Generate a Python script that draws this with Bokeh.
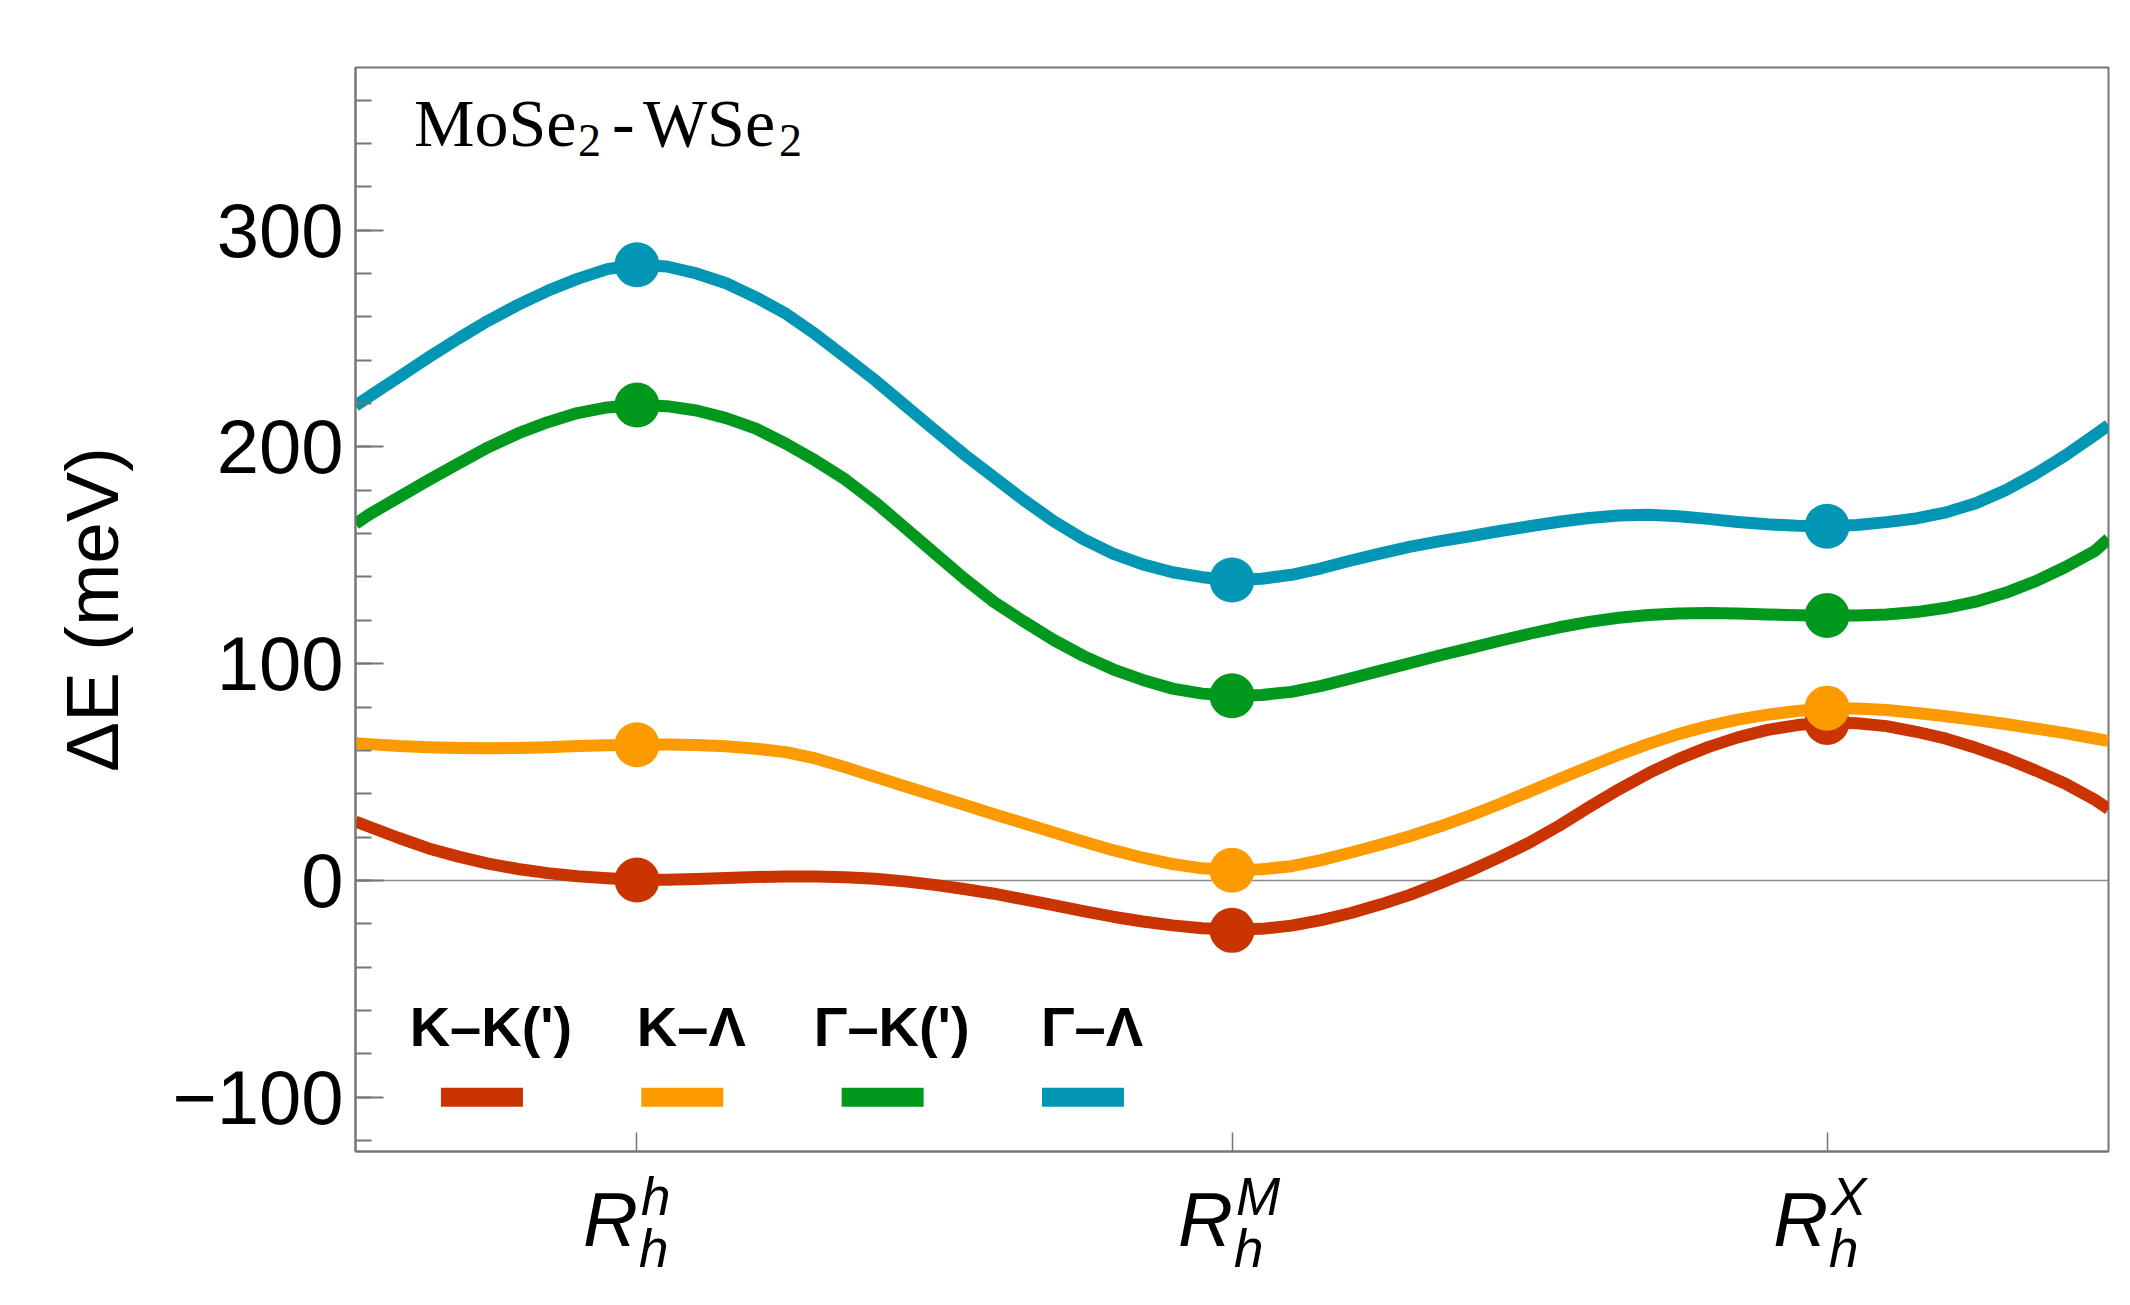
from bokeh.plotting import figure
from bokeh.layouts import column
from bokeh.models import Range1d, FixedTicker, SingleIntervalTicker, Span
from bokeh.embed import file_html
from bokeh.resources import INLINE
from bokeh.core.properties import value

# ---------------- data ----------------
cat_pos = [0, 1, 2]
cat_sup = ["h", "M", "X"]          # x labels: R_h^h, R_h^M, R_h^X
cat_sub = ["h", "h", "h"]

x_samples = [-0.473, -0.45, -0.4, -0.35, -0.3, -0.25, -0.2, -0.15, -0.1, -0.05,
             0.0, 0.05, 0.1, 0.15, 0.2, 0.25, 0.3, 0.35, 0.4, 0.45,
             0.5, 0.55, 0.6, 0.65, 0.7, 0.75, 0.8, 0.85, 0.9, 0.95,
             1.0, 1.05, 1.1, 1.15, 1.2, 1.25, 1.3, 1.35, 1.4, 1.45,
             1.5, 1.55, 1.6, 1.65, 1.7, 1.75, 1.8, 1.85, 1.9, 1.95,
             2.0, 2.05, 2.1, 2.15, 2.2, 2.25, 2.3, 2.35, 2.4, 2.45, 2.473]

kk_curve = [27.2, 24.8, 19.6, 14.8, 11.0, 7.8, 5.3, 3.4, 2.0, 1.0,
            0.3, 0.3, 0.7, 1.2, 1.6, 1.9, 1.9, 1.5, 0.8, -0.4,
            -2.0, -3.9, -6.1, -8.7, -11.4, -14.1, -16.7, -18.9, -20.7, -22.0,
            -22.6, -22.3, -20.8, -18.3, -15.0, -11.0, -6.5, -1.2, 4.5, 10.8,
            17.5, 25.3, 33.8, 42.0, 49.5, 56.0, 61.5, 66.0, 69.5, 71.7,
            72.9, 72.5, 71.2, 68.6, 65.4, 61.2, 56.4, 50.8, 44.7, 37.2, 33.0]
kl_curve = [63.3, 62.9, 62.0, 61.5, 61.1, 61.0, 61.1, 61.5, 62.0, 62.4,
            62.6, 62.7, 62.5, 61.9, 60.8, 59.2, 56.3, 52.2, 47.9, 43.5,
            39.2, 34.9, 30.6, 26.4, 22.2, 18.0, 14.0, 10.5, 7.6, 5.6,
            4.7, 5.2, 6.6, 9.4, 12.9, 16.6, 20.5, 25.0, 29.9, 35.3,
            41.0, 46.8, 52.5, 58.0, 63.0, 67.5, 71.2, 74.2, 76.5, 78.2,
            79.4, 79.3, 78.6, 77.3, 75.8, 74.0, 72.2, 70.1, 68.0, 65.5, 64.4]
gk_curve = [164.5, 168.8, 176.8, 184.7, 192.3, 199.8, 206.2, 211.4, 215.6, 218.2,
            219.3, 218.8, 216.8, 213.3, 208.4, 201.5, 193.7, 185.0, 174.5, 162.8,
            151.0, 139.3, 128.5, 119.5, 111.0, 103.6, 97.4, 92.5, 88.5, 86.2,
            85.2, 85.6, 87.0, 89.8, 93.2, 96.8, 100.3, 103.9, 107.2, 110.6,
            113.8, 116.8, 119.3, 121.2, 122.5, 123.2, 123.4, 123.1, 122.7, 122.3,
            122.2, 122.2, 122.7, 123.8, 125.8, 128.6, 132.7, 138.0, 144.5, 152.0, 157.6]
gl_curve = [219.0, 223.2, 232.2, 241.3, 250.0, 258.2, 265.5, 272.0, 277.5, 282.0,
            284.0, 283.2, 280.0, 275.5, 269.0, 261.5, 252.0, 241.5, 230.8, 219.3,
            207.8, 196.5, 186.0, 175.5, 165.8, 157.5, 150.8, 145.8, 142.2, 139.9,
            138.6, 139.2, 141.0, 144.0, 147.6, 150.9, 154.0, 156.5, 158.8, 161.2,
            163.4, 165.5, 167.2, 168.4, 168.7, 168.0, 166.8, 165.4, 164.3, 163.6,
            163.4, 164.0, 165.3, 167.0, 169.8, 174.0, 180.0, 187.5, 196.0, 205.5, 210.0]

kk_pts = [0.2, -23.0, 72.9]
kl_pts = [62.6, 4.7, 79.5]
gk_pts = [219.3, 85.2, 122.2]
gl_pts = [284.0, 138.6, 163.4]

series_names = ["K\u2013K(')", "K\u2013\u039b", "\u0393\u2013K(')", "\u0393\u2013\u039b"]
series_colors = ["#C93400", "#FC9A00", "#00991E", "#0096B4"]
curves = [kk_curve, kl_curve, gk_curve, gl_curve]
points = [kk_pts, kl_pts, gk_pts, gl_pts]

title_parts = ["MoSe", "2", "-", "WSe", "2"]
y_tick_overrides = {-100: "\u2212100"}

# ---------------- styling / layout ----------------
GRAY = "#767676"
SANS = "Liberation Sans"
W = 2110
ML, MR = 355, 2

p = figure(width=W, height=1157, x_range=Range1d(-0.473, 2.473), y_range=Range1d(-125, 375),
           output_backend="svg", toolbar_location=None,
           min_border_left=ML, min_border_right=MR, min_border_top=67, min_border_bottom=6)
p.grid.visible = False
p.background_fill_color = "white"
p.border_fill_color = "white"
p.outline_line_color = GRAY
p.outline_line_width = 2

# y axis
p.yaxis.ticker = SingleIntervalTicker(interval=100, num_minor_ticks=5)
p.yaxis.major_label_overrides = y_tick_overrides
p.yaxis.axis_line_color = GRAY
p.yaxis.axis_line_width = 2
p.yaxis.major_tick_line_color = GRAY
p.yaxis.major_tick_line_width = 2
p.yaxis.minor_tick_line_color = GRAY
p.yaxis.minor_tick_line_width = 2
p.yaxis.major_tick_in = 28
p.yaxis.major_tick_out = 0
p.yaxis.minor_tick_in = 16
p.yaxis.minor_tick_out = 0
p.yaxis.major_label_standoff = 12
p.yaxis.major_label_text_font = SANS
p.yaxis.major_label_text_font_size = "76px"
p.yaxis.major_label_text_color = "black"
p.yaxis.axis_label = "\u0394E (meV)"
p.yaxis.axis_label_text_font = SANS
p.yaxis.axis_label_text_font_style = "normal"
p.yaxis.axis_label_text_font_size = "75px"
p.yaxis.axis_label_text_color = "black"
p.yaxis.axis_label_standoff = 35

# x axis (ticks only; the composite labels are drawn in the strip below)
p.xaxis.ticker = FixedTicker(ticks=cat_pos, minor_ticks=[])
p.xaxis.axis_line_color = GRAY
p.xaxis.axis_line_width = 2
p.xaxis.major_tick_line_color = GRAY
p.xaxis.major_tick_line_width = 1.5
p.xaxis.major_tick_in = 19
p.xaxis.major_tick_out = 0
p.xaxis.major_label_standoff = 0
p.xaxis.major_label_text_font_size = "1px"
p.xaxis.major_label_text_color = None

# zero line
p.add_layout(Span(location=0, dimension="width", line_color="#8c8c8c", line_width=1.5,
                  level="underlay"))

# curves and points
for col, cv, pts in zip(series_colors, curves, points):
    p.line(x_samples, cv, line_color=col, line_width=12, line_join="round")
    p.scatter(cat_pos, pts, marker="circle", size=45, fill_color=col, line_color=None)

# legend (labels above colour bars)
leg_x0, leg_dx = -0.2605, 0.3367
leg_y_bar, leg_y_text = -100, -76.5
leg_x = [leg_x0 + i * leg_dx for i in range(len(series_names))]
p.rect(leg_x, [leg_y_bar] * len(leg_x), width=82, height=19, width_units="screen",
       height_units="screen", fill_color=series_colors, line_color=None)
p.text(leg_x, [leg_y_text] * len(leg_x), text=series_names, text_font=value(SANS),
       text_font_style="bold", text_font_size="56px", text_align="center",
       text_baseline="alphabetic", x_offset=9, y_offset=-20, text_color="black")

# title inside the frame (with subscripts)
t_x, t_y, t_ysub = -0.3748, 338.1, 333.8
p.text([t_x] * 5, [t_y, t_ysub, t_y, t_y, t_ysub], text=title_parts,
       x_offset=[0, 164, 198, 229, 365], y_offset=[-24, -16, -24, -24, -16],
       text_font_size=["68px", "46px", "68px", "68px", "46px"],
       text_font=value("Liberation Serif"), text_align="left",
       text_baseline="alphabetic", text_color="black")

# ---------------- x tick labels strip ----------------
HB = 140
q = figure(width=W, height=HB, x_range=p.x_range, y_range=Range1d(HB, 0),
           output_backend="svg", toolbar_location=None, x_axis_type=None, y_axis_type=None,
           min_border_left=ML, min_border_right=MR, min_border_top=0, min_border_bottom=0)
q.grid.visible = False
q.outline_line_color = None
q.background_fill_color = "white"
q.border_fill_color = "white"
n = len(cat_pos)
q.text(cat_pos, [89] * n, text=["R"] * n, text_font=value(SANS), text_font_style="italic",
       text_font_size="76px", text_align="right", text_baseline="alphabetic",
       x_offset=1, y_offset=-27, text_color="black")
q.text(cat_pos, [58] * n, text=cat_sup, text_font=value(SANS), text_font_style="italic",
       text_font_size="53px", text_align="left", text_baseline="alphabetic",
       x_offset=4, y_offset=-19, text_color="black")
q.text(cat_pos, [109.7] * n, text=cat_sub, text_font=value(SANS), text_font_style="italic",
       text_font_size="53px", text_align="left", text_baseline="alphabetic",
       x_offset=2, y_offset=-19, text_color="black")

open("out.html", "w").write(file_html(column(p, q, spacing=0), INLINE))
